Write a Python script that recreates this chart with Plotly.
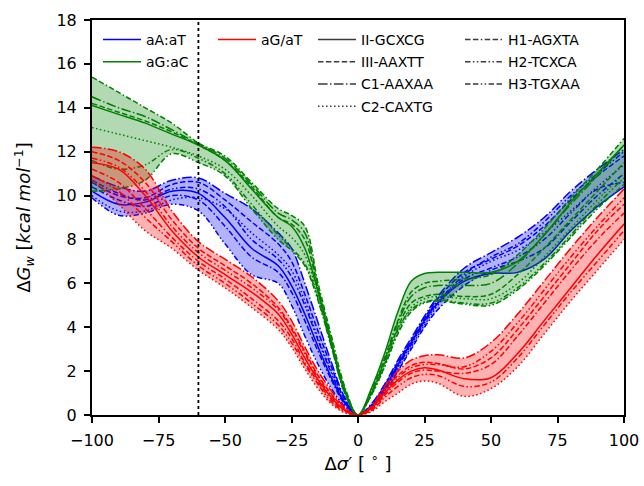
import plotly.graph_objects as go

# Twist offset grid (degrees)
angle = [-100, -90, -80, -70, -60, -50, -40, -30, -25, -20, -15, -10, -5, 0,
         5, 10, 15, 20, 25, 30, 40, 50, 60, 70, 80, 90, 100]

systems = ["II-GCXCG", "III-AAXTT", "C1-AAXAA", "C2-CAXTG",
           "H1-AGXTA", "H2-TCXCA", "H3-TGXAA"]

# aA:aT free-energy profiles (kcal/mol)
aAaT_II_GCXCG = [10.2, 9.6, 9.7, 10.2, 10.1, 9.0, 7.6, 6.8, 5.9, 4.6, 3.1, 1.7, 0.55, 0,
                 0.4, 1.2, 2.3, 3.3, 4.3, 5.1, 6.1, 6.45, 6.5, 7.1, 8.4, 9.5, 10.4]
aAaT_III_AAXTT = [10.6, 10.0, 9.9, 10.5, 10.6, 9.8, 8.8, 7.8, 7.0, 5.5, 3.8, 2.2, 0.7, 0,
                  0.45, 1.35, 2.4, 3.4, 4.4, 5.3, 6.5, 7.1, 7.7, 8.6, 9.8, 10.9, 11.8]
aAaT_C1_AAXAA = [10.9, 10.4, 10.2, 10.7, 10.8, 10.1, 9.4, 8.3, 7.6, 6.0, 4.2, 2.4, 0.8, 0,
                 0.5, 1.4, 2.5, 3.5, 4.5, 5.4, 6.7, 7.4, 8.1, 9.0, 10.2, 11.2, 12.1]
aAaT_C2_CAXTG = [10.0, 9.3, 9.3, 9.8, 9.9, 9.4, 8.3, 7.3, 6.6, 5.2, 3.5, 2.0, 0.65, 0,
                 0.35, 1.1, 2.1, 3.1, 4.1, 5.0, 6.3, 7.0, 7.5, 8.3, 9.3, 10.4, 11.4]
aAaT_H1_AGXTA = [10.4, 9.8, 9.5, 10.0, 9.8, 8.6, 7.2, 6.5, 5.6, 4.3, 2.9, 1.6, 0.5, 0,
                 0.3, 1.0, 2.0, 3.0, 4.0, 4.8, 5.9, 6.6, 7.0, 7.6, 8.8, 10.0, 11.0]
aAaT_H2_TCXCA = [9.9, 9.1, 9.2, 9.6, 9.3, 7.8, 6.4, 6.0, 5.0, 3.6, 2.3, 1.2, 0.4, 0,
                 0.35, 1.1, 2.2, 3.2, 4.2, 5.1, 6.4, 7.2, 7.8, 8.8, 10.0, 11.0, 12.0]
aAaT_H3_TGXAA = [10.7, 10.1, 9.8, 10.3, 10.3, 9.5, 8.0, 7.1, 6.3, 5.0, 3.4, 1.9, 0.6, 0,
                 0.4, 1.2, 2.3, 3.3, 4.3, 5.2, 6.2, 6.7, 7.2, 8.0, 9.2, 10.3, 10.6]

# aG:aC free-energy profiles (kcal/mol)
aGaC_II_GCXCG = [14.1, 13.7, 13.3, 12.8, 12.3, 11.6, 10.3, 9.0, 8.6, 7.6, 5.6, 3.3, 1.1, 0,
                 1.2, 2.8, 4.7, 6.1, 6.45, 6.5, 6.5, 6.5, 7.0, 8.2, 9.7, 11.0, 12.3]
aGaC_III_AAXTT = [14.2, 13.8, 13.4, 12.9, 12.3, 11.6, 10.4, 9.0, 8.7, 8.0, 5.7, 3.3, 1.15, 0,
                  1.0, 2.4, 4.0, 5.1, 5.4, 5.5, 5.4, 5.5, 6.4, 7.6, 8.9, 10.2, 11.5]
aGaC_C1_AAXAA = [14.5, 14.0, 13.6, 13.0, 12.35, 11.7, 10.5, 9.2, 8.9, 8.3, 5.8, 3.4, 1.2, 0,
                 1.0, 2.5, 4.2, 5.4, 5.8, 5.9, 5.9, 6.0, 6.9, 8.2, 9.6, 10.9, 12.3]
aGaC_C2_CAXTG = [13.1, 12.8, 12.5, 12.2, 11.8, 11.2, 10.0, 8.6, 8.1, 7.3, 5.4, 3.2, 1.05, 0,
                 0.9, 2.2, 3.8, 4.9, 5.3, 5.4, 5.3, 5.3, 6.0, 7.2, 8.5, 9.8, 11.0]
aGaC_H1_AGXTA = [15.4, 14.7, 14.0, 13.3, 12.4, 11.8, 10.6, 9.4, 9.1, 8.6, 6.0, 3.6, 1.3, 0,
                 1.1, 2.6, 4.3, 5.6, 6.0, 6.1, 6.2, 6.4, 7.3, 8.5, 9.9, 11.2, 12.6]
aGaC_H2_TCXCA = [11.6, 11.2, 11.4, 12.1, 11.7, 11.0, 9.6, 8.2, 7.6, 6.9, 5.3, 3.1, 1.0, 0,
                 0.95, 2.3, 3.9, 4.8, 5.15, 5.25, 5.1, 5.1, 5.8, 6.9, 8.2, 9.6, 10.8]
aGaC_H3_TGXAA = [10.2, 10.3, 10.7, 11.9, 11.5, 10.9, 9.4, 8.0, 7.5, 6.8, 5.2, 3.1, 1.0, 0,
                 0.9, 2.2, 3.7, 4.7, 5.1, 5.2, 5.05, 5.0, 5.7, 6.8, 8.1, 9.4, 10.5]

# aG/aT free-energy profiles (kcal/mol)
aGaT_II_GCXCG = [11.5, 11.2, 10.0, 8.4, 7.2, 6.4, 5.6, 4.6, 3.7, 2.6, 1.6, 0.8, 0.22, 0,
                 0.3, 1.0, 1.6, 2.0, 2.15, 2.05, 1.65, 1.7, 2.8, 4.3, 5.8, 7.3, 8.7]
aGaT_III_AAXTT = [12.0, 11.6, 10.6, 8.9, 7.6, 6.8, 6.0, 4.9, 4.0, 2.9, 1.8, 0.95, 0.3, 0,
                  0.35, 1.15, 1.8, 2.25, 2.4, 2.35, 2.1, 2.6, 3.9, 5.4, 6.9, 8.4, 9.6]
aGaT_C1_AAXAA = [12.2, 12.0, 11.2, 9.3, 7.9, 7.1, 6.3, 5.2, 4.3, 3.1, 2.0, 1.1, 0.35, 0,
                 0.4, 1.3, 2.0, 2.5, 2.7, 2.75, 2.6, 3.3, 4.6, 6.1, 7.6, 9.0, 10.3]
aGaT_C2_CAXTG = [10.7, 9.6, 8.4, 7.6, 6.6, 5.8, 4.9, 3.9, 3.1, 2.1, 1.2, 0.5, 0.1, 0,
                 0.15, 0.6, 1.0, 1.4, 1.55, 1.45, 0.85, 1.2, 2.2, 3.7, 5.2, 6.6, 8.0]
aGaT_H1_AGXTA = [11.2, 10.6, 9.4, 8.1, 7.0, 6.2, 5.3, 4.3, 3.5, 2.4, 1.5, 0.7, 0.2, 0,
                 0.25, 0.9, 1.5, 1.9, 2.05, 2.0, 1.9, 2.3, 3.6, 5.1, 6.6, 8.0, 9.2]
aGaT_H2_TCXCA = [11.7, 11.3, 10.2, 8.6, 7.4, 6.6, 5.8, 4.8, 3.9, 2.8, 1.7, 0.9, 0.25, 0,
                 0.3, 1.05, 1.7, 2.15, 2.3, 2.3, 2.2, 2.9, 4.2, 5.7, 7.2, 8.6, 9.9]
aGaT_H3_TGXAA = [10.9, 10.2, 9.0, 7.9, 6.8, 6.0, 5.1, 4.1, 3.3, 2.3, 1.4, 0.6, 0.15, 0,
                 0.2, 0.8, 1.3, 1.7, 1.85, 1.8, 1.3, 1.5, 2.6, 4.1, 5.6, 7.0, 8.4]

split_angle = -60

FONT = "DejaVu Sans"
LW = 1.5
dashes = ["solid", "5.5px,2.4px", "9.6px,2.4px,1.5px,2.4px", "1.5px,2.5px",
          "5.5px,2.4px,5.5px,2.4px,1.5px,2.4px",
          "5.5px,2.4px,1.5px,2.4px,1.5px,2.4px",
          "5.5px,2.4px,5.5px,2.4px,1.5px,2.4px,1.5px,2.4px"]

groups = [
    ("aA:aT", "rgb(0,0,255)", "rgba(0,0,255,0.3)",
     [aAaT_II_GCXCG, aAaT_III_AAXTT, aAaT_C1_AAXAA, aAaT_C2_CAXTG,
      aAaT_H1_AGXTA, aAaT_H2_TCXCA, aAaT_H3_TGXAA]),
    ("aG:aC", "rgb(0,128,0)", "rgba(0,128,0,0.3)",
     [aGaC_II_GCXCG, aGaC_III_AAXTT, aGaC_C1_AAXAA, aGaC_C2_CAXTG,
      aGaC_H1_AGXTA, aGaC_H2_TCXCA, aGaC_H3_TGXAA]),
    ("aG/aT", "rgb(255,0,0)", "rgba(255,0,0,0.3)",
     [aGaT_II_GCXCG, aGaT_III_AAXTT, aGaT_C1_AAXAA, aGaT_C2_CAXTG,
      aGaT_H1_AGXTA, aGaT_H2_TCXCA, aGaT_H3_TGXAA]),
]

fig = go.Figure()

for name, color, fill, curves in groups:
    lo = [min(v) for v in zip(*curves)]
    hi = [max(v) for v in zip(*curves)]
    fig.add_trace(go.Scatter(x=angle, y=lo, mode="lines", line=dict(width=0, shape="spline"),
                             showlegend=False, hoverinfo="skip"))
    fig.add_trace(go.Scatter(x=angle, y=hi, mode="lines", line=dict(width=0, shape="spline"),
                             fill="tonexty", fillcolor=fill, showlegend=False, hoverinfo="skip"))
    for sysname, dash, vals in zip(systems, dashes, curves):
        fig.add_trace(go.Scatter(x=angle, y=vals, mode="lines", name=f"{name} {sysname}",
                                 line=dict(color=color, width=LW, dash=dash, shape="spline"),
                                 showlegend=False))

# Legend handles: colours (two blocks) and line styles (two blocks)
for i, (name, color, _, _) in enumerate(groups):
    fig.add_trace(go.Scatter(x=[None], y=[None], mode="lines", name=name,
                             line=dict(color=color, width=LW),
                             legend="legend" if i < 2 else "legend2",
                             legendgroup=f"c{i}"))
for i, (sysname, dash) in enumerate(zip(systems, dashes)):
    fig.add_trace(go.Scatter(x=[None], y=[None], mode="lines", name=sysname,
                             line=dict(color="#3a3a3a", width=LW, dash=dash),
                             legend="legend3" if i < 4 else "legend4",
                             legendgroup=f"s{i}"))

fig.add_shape(type="line", x0=split_angle, x1=split_angle, y0=0, y1=18,
              xref="x", yref="y", line=dict(color="black", width=1.8, dash="dot"))

L, R, T, B = 92, 20, 20, 71
W, H = 644, 486
pw, ph = W - L - R, H - T - B


def lx(px):
    return (px - L) / pw


def ly(py):
    return (H - B - py) / ph


leg_common = dict(bgcolor="rgba(0,0,0,0)", borderwidth=0, xanchor="left", yanchor="top",
                  font=dict(family=FONT, size=14, color="black"), tracegroupgap=1,
                  itemwidth=38, itemclick=False, itemdoubleclick=False)

fig.update_layout(
    width=W, height=H,
    margin=dict(l=L, r=R, t=T, b=B, autoexpand=False),
    paper_bgcolor="white", plot_bgcolor="white",
    font=dict(family=FONT, size=16, color="black"),
    legend=dict(x=lx(98), y=ly(24), **leg_common),
    legend2=dict(x=lx(213), y=ly(24), **leg_common),
    legend3=dict(x=lx(313), y=ly(24), **leg_common),
    legend4=dict(x=lx(460), y=ly(24), **leg_common),
    xaxis=dict(range=[-100, 100], tickmode="array", tickvals=[-100, -75, -50, -25, 0, 25, 50, 75, 100],
               ticks="outside", ticklen=6, tickwidth=1.5, tickcolor="black",
               ticklabelstandoff=4, tickfont=dict(size=16), automargin=False,
               showline=True, linewidth=2, linecolor="black", mirror=True,
               showgrid=False, zeroline=False,
               title=dict(text="Δ<i>σ</i>′ [ <sup>∘</sup> ]", standoff=6, font=dict(size=18))),
    yaxis=dict(range=[0, 18], tickmode="array", tickvals=list(range(0, 19, 2)),
               ticks="outside", ticklen=6, tickwidth=1.5, tickcolor="black",
               ticklabelstandoff=4, tickfont=dict(size=16), automargin=False,
               showline=True, linewidth=2, linecolor="black", mirror=True,
               showgrid=False, zeroline=False,
               title=dict(text="Δ<i>G</i><sub><i>w</i></sub> [<i>kcal mol</i><sup>−1</sup>]",
                          standoff=21, font=dict(size=18))),
)

fig.write_html("out.html")
